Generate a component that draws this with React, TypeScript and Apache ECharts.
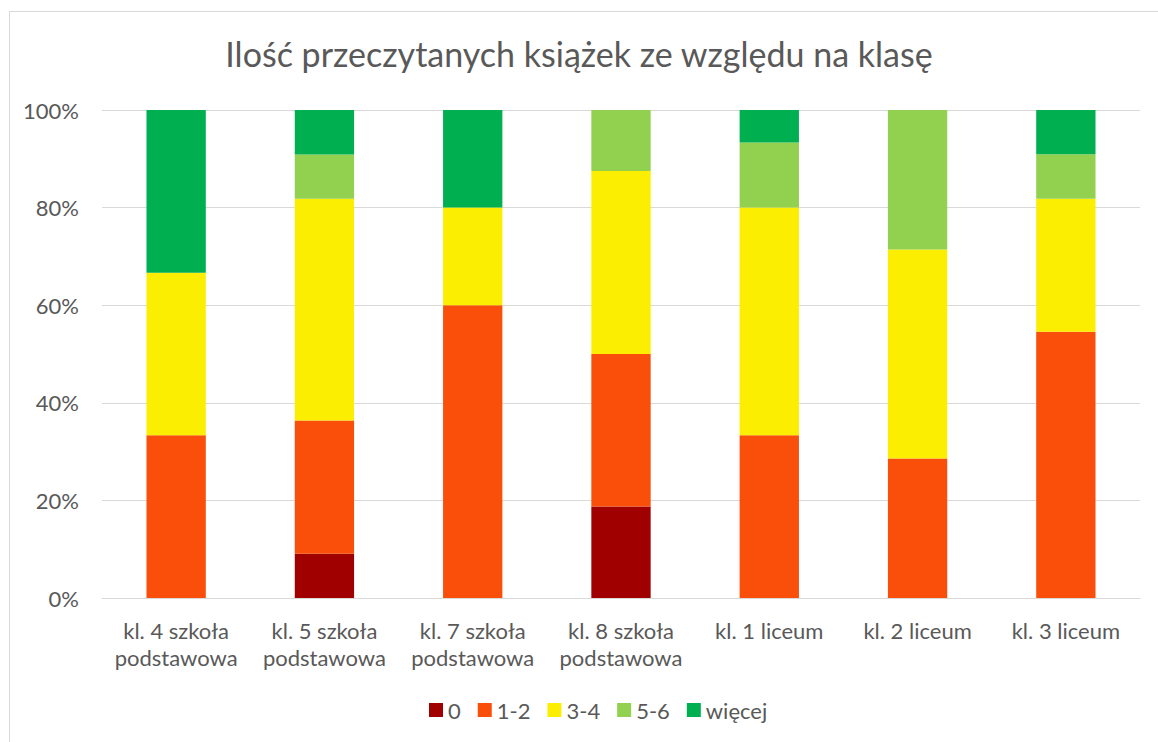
import React, { useEffect, useRef } from "react";
import * as echarts from "echarts";

const categories = [
  "kl. 4 szkoła\npodstawowa",
  "kl. 5 szkoła\npodstawowa",
  "kl. 7 szkoła\npodstawowa",
  "kl. 8 szkoła\npodstawowa",
  "kl. 1 liceum",
  "kl. 2 liceum",
  "kl. 3 liceum",
];
const seriesNames = ["0", "1-2", "3-4", "5-6", "więcej"];
const v0 = [0, 9.09, 0, 18.75, 0, 0, 0];
const v12 = [33.33, 27.27, 60, 31.25, 33.33, 28.57, 54.55];
const v34 = [33.33, 45.45, 20, 37.5, 46.67, 42.86, 27.27];
const v56 = [0, 9.09, 0, 12.5, 13.33, 28.57, 9.09];
const vMore = [33.34, 9.1, 20, 0, 6.67, 0, 9.09];
const colors = ["#a00000", "#f94f0a", "#fcee00", "#92d050", "#00b050"];
const title = "Ilość przeczytanych książek ze względu na klasę";

export default function App() {
  const ref = useRef<HTMLDivElement>(null);
  useEffect(() => {
    if (!ref.current) return;
    const chart = echarts.init(ref.current, null, { renderer: "svg" });
    const font = "Lato, 'Open Sans', sans-serif";
    const values = [v0, v12, v34, v56, vMore];
    chart.setOption({
      animation: false,
      textStyle: { fontFamily: font, color: "#595959" },
      title: {
        text: title,
        left: "center",
        top: 31,
        textStyle: { fontFamily: font, fontSize: 34, fontWeight: "normal", color: "#595959" },
      },
      grid: { left: 102, right: 18, top: 110, bottom: 144 },
      legend: {
        bottom: 16,
        left: 424,
        itemWidth: 14,
        itemHeight: 14,
        itemGap: 17,
        icon: "rect",
        textStyle: { fontFamily: font, fontSize: 22, color: "#595959" },
        data: seriesNames,
      },
      xAxis: {
        type: "category",
        data: categories,
        axisLine: { lineStyle: { color: "#d9d9d9", width: 1 } },
        axisTick: { show: false },
        axisLabel: { fontFamily: font, fontSize: 22, color: "#595959", lineHeight: 27, margin: 19, interval: 0 },
      },
      yAxis: {
        type: "value",
        min: 0,
        max: 100,
        interval: 20,
        axisLine: { show: false },
        axisTick: { show: false },
        splitLine: { lineStyle: { color: "#d9d9d9", width: 1 } },
        axisLabel: { formatter: "{value}%", fontFamily: font, fontSize: 22, color: "#595959", margin: 23 },
      },
      series: seriesNames.map((name, i) => ({
        name,
        type: "bar",
        stack: "total",
        barWidth: "40%",
        data: values[i],
        itemStyle: { color: colors[i] },
      })),
    });
    return () => chart.dispose();
  }, []);
  return (
    <div style={{ position: "absolute", left: 0, top: 0, width: 1158, height: 742, background: "#fff" }}>
      <div
        style={{
          position: "absolute",
          left: 9,
          top: 11,
          width: 1200,
          height: 800,
          border: "1px solid #d9d9d9",
          boxSizing: "border-box",
        }}
      />
      <div ref={ref} style={{ position: "absolute", left: 0, top: 0, width: 1158, height: 742 }} />
    </div>
  );
}
